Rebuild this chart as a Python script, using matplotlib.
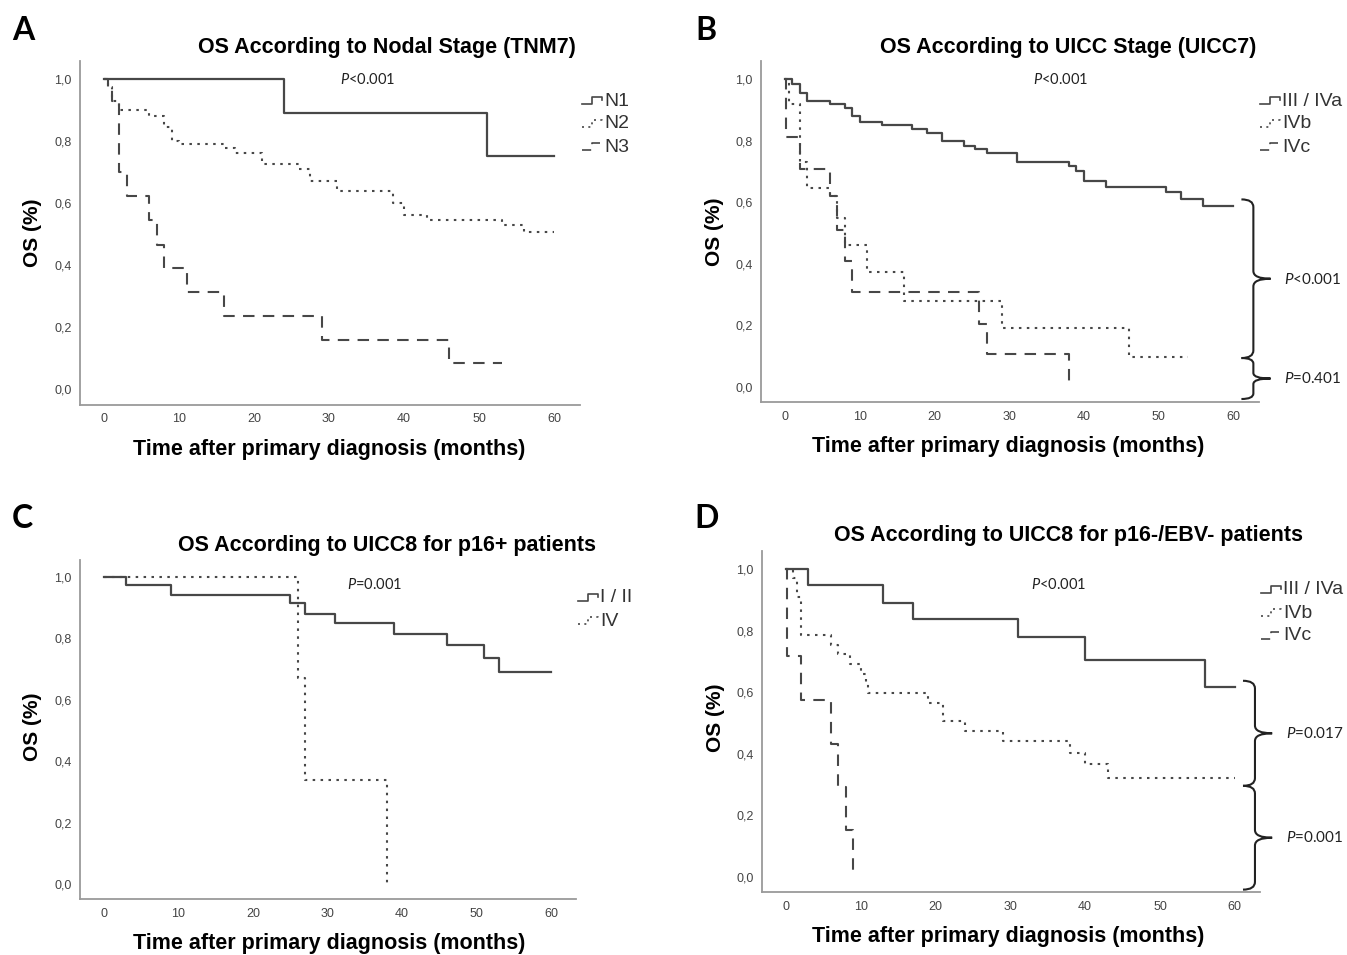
import matplotlib
matplotlib.use('Agg')
import matplotlib.pyplot as plt
from matplotlib.lines import Line2D
from matplotlib.path import Path
from matplotlib.patches import PathPatch
from matplotlib.ticker import FuncFormatter

plt.rcParams['font.family'] = ['Liberation Sans', 'DejaVu Sans']
plt.rcParams['mathtext.fontset'] = 'custom'
plt.rcParams['mathtext.it'] = 'Lato:italic'
plt.rcParams['mathtext.rm'] = 'Lato'

W, H = 1347, 955

# ---- data (Kaplan-Meier steps) ----
# A: nodal stage
n1_t = [0, 24, 51, 60]
n1_s = [1.0, 0.89, 0.75, 0.75]
n2_t = [0, 0.5, 1, 2, 6, 8, 9, 10, 16, 17.5, 21, 26, 27.5, 31, 38.5, 40, 43, 53, 56, 60]
n2_s = [1.0, 0.975, 0.93, 0.90, 0.88, 0.845, 0.80, 0.79, 0.778, 0.762, 0.725, 0.708, 0.67, 0.64, 0.60, 0.562, 0.546, 0.53, 0.505, 0.505]
n3_t = [0, 0.5, 1, 2, 3, 6, 7, 8, 11, 16, 29, 46, 53]
n3_s = [1.0, 0.975, 0.93, 0.70, 0.622, 0.544, 0.465, 0.389, 0.312, 0.237, 0.159, 0.083, 0.083]

# B: UICC7
b1_t = [0, 1, 2, 3, 6, 8, 9, 10, 13, 17, 19, 21, 24, 25.5, 27, 31, 38, 39, 40, 43, 51, 53, 56, 60]
b1_s = [1.0, 0.984, 0.954, 0.93, 0.918, 0.905, 0.88, 0.86, 0.85, 0.837, 0.826, 0.80, 0.783, 0.772, 0.76, 0.73, 0.717, 0.70, 0.668, 0.65, 0.633, 0.609, 0.589, 0.589]
b2_t = [0, 0.5, 2, 3, 6, 7, 8, 11, 16, 29, 46, 54]
b2_s = [1.0, 0.92, 0.73, 0.647, 0.62, 0.55, 0.46, 0.372, 0.28, 0.19, 0.098, 0.098]
b3_t = [0, 0.2, 2, 6, 7, 8, 9, 26, 27, 38]
b3_s = [1.0, 0.81, 0.709, 0.62, 0.51, 0.41, 0.308, 0.206, 0.107, 0.0]

# C: UICC8 p16+
c1_t = [0, 3, 9, 25, 27, 31, 39, 46, 51, 53, 60]
c1_s = [1.0, 0.973, 0.943, 0.914, 0.881, 0.849, 0.813, 0.778, 0.735, 0.689, 0.689]
c2_t = [0, 26, 27, 38]
c2_s = [1.0, 0.67, 0.34, 0.0]

# D: UICC8 p16-/EBV-
d1_t = [0, 3, 13, 17, 31, 40, 56, 60]
d1_s = [1.0, 0.948, 0.891, 0.836, 0.778, 0.706, 0.618, 0.618]
d2_t = [0, 1, 1.5, 2, 6, 7, 8.5, 10, 10.7, 11, 19, 21, 24, 29, 38, 40, 43, 60]
d2_s = [1.0, 0.97, 0.91, 0.784, 0.754, 0.725, 0.692, 0.66, 0.625, 0.598, 0.566, 0.506, 0.474, 0.44, 0.404, 0.366, 0.321, 0.321]
d3_t = [0, 0.1, 2, 6, 7, 8, 9]
d3_s = [1.0, 0.717, 0.574, 0.431, 0.293, 0.151, 0.0]

xticks = [0, 10, 20, 30, 40, 50, 60]
yticks = [0.0, 0.2, 0.4, 0.6, 0.8, 1.0]

LINE = '#474747'
STYLES = {
    'solid': dict(linestyle='-', linewidth=1.6),
    'dot': dict(linestyle=(0, (1.2, 2.6)), linewidth=1.5),
    'dash': dict(linestyle=(0, (5.5, 4)), linewidth=1.5),
}


def fx(x):
    return x / W


def fy(y):
    return 1 - y / H


def make_axes(l, t, r, b):
    ax = fig.add_axes([fx(l), fy(b), (r - l) / W, (b - t) / H])
    ax.set_xlim(-3.2, 63.4)
    ax.set_ylim(-0.05, 1.057)
    for s in ['top', 'right']:
        ax.spines[s].set_visible(False)
    for s in ['left', 'bottom']:
        ax.spines[s].set_color('#9a9a9a')
        ax.spines[s].set_linewidth(1.3)
    ax.set_xticks(xticks)
    ax.set_yticks(yticks)
    ax.yaxis.set_major_formatter(FuncFormatter(lambda v, p: f'{v:.1f}'.replace('.', ',')))
    ax.tick_params(length=0, labelsize=9, labelcolor='#444444', pad=6)
    return ax


def km(ax, t, s, style):
    ax.step(t, s, where='post', color=LINE, **STYLES[style])


def legend(x, y, items):
    for i, (style, label) in enumerate(items):
        yy = y + i * 23
        xs = [x, x + 10, x + 10, x + 20, x + 20]
        ys = [yy + 3, yy + 3, yy - 4, yy - 4, yy - 1]
        fig.add_artist(Line2D([fx(v) for v in xs], [fy(v) for v in ys],
                              transform=fig.transFigure, color=LINE,
                              **dict(STYLES[style], linewidth=1.2)))
        fig.text(fx(x + 22), fy(yy), label, fontsize=14, color='#333333',
                 va='center', ha='left')


def brace(ax, x, y0, y1, w_in, w_out, r):
    ym = (y0 + y1) / 2
    verts = [(x - w_in, y1), (x, y1), (x, y1 - r),
             (x, ym + r),
             (x, ym), (x + w_out, ym),
             (x, ym), (x, ym - r),
             (x, y0 + r),
             (x, y0), (x - w_in, y0)]
    codes = [Path.MOVETO, Path.CURVE3, Path.CURVE3,
             Path.LINETO,
             Path.CURVE3, Path.CURVE3,
             Path.CURVE3, Path.CURVE3,
             Path.LINETO,
             Path.CURVE3, Path.CURVE3]
    ax.add_patch(PathPatch(Path(verts, codes), fill=False, edgecolor='#222222',
                           linewidth=1.5, clip_on=False))


def ptext(ax, x, y, s, size=11):
    ax.text(x, y, s, fontsize=size, family='Lato', color='#222222',
            ha='left', va='center', clip_on=False)


fig = plt.figure(figsize=(W / 100, H / 100), dpi=100, facecolor='white')

# panel boxes in pixels (left, top, right, bottom)
axA = make_axes(80, 61.3, 579.5, 404.5)
axB = make_axes(761, 61.4, 1258.6, 402.4)
axC = make_axes(80, 559.5, 576.3, 899.4)
axD = make_axes(762, 551.4, 1260.2, 892.4)

km(axA, n1_t, n1_s, 'solid')
km(axA, n2_t, n2_s, 'dot')
km(axA, n3_t, n3_s, 'dash')

km(axB, b1_t, b1_s, 'solid')
km(axB, b2_t, b2_s, 'dot')
km(axB, b3_t, b3_s, 'dash')

km(axC, c1_t, c1_s, 'solid')
km(axC, c2_t, c2_s, 'dot')

km(axD, d1_t, d1_s, 'solid')
km(axD, d2_t, d2_s, 'dot')
km(axD, d3_t, d3_s, 'dash')

# p-values inside panels
for ax, x, y, s in [(axA, 31.5, 0.997, r'$P$<0.001'),
                    (axB, 33.2, 0.997, r'$P$<0.001'),
                    (axC, 32.6, 0.974, r'$P$=0.001'),
                    (axD, 32.7, 0.948, r'$P$<0.001')]:
    ptext(ax, x, y, s, size=10.5)

# braces
brace(axB, 62.7, 0.094, 0.609, 1.6, 2.3, 0.025)
brace(axB, 62.7, -0.039, 0.094, 1.6, 2.3, 0.018)
ptext(axB, 66.8, 0.35, r'$P$<0.001')
ptext(axB, 66.8, 0.027, r'$P$=0.401')
brace(axD, 62.7, 0.296, 0.637, 1.6, 2.3, 0.025)
brace(axD, 62.7, -0.041, 0.296, 1.6, 2.3, 0.025)
ptext(axD, 66.8, 0.466, r'$P$=0.017')
ptext(axD, 66.8, 0.127, r'$P$=0.001')

# legends
legend(582, 101, [('solid', 'N1'), ('dot', 'N2'), ('dash', 'N3')])
legend(1260, 101, [('solid', 'III / IVa'), ('dot', 'IVb'), ('dash', 'IVc')])
legend(578, 598, [('solid', 'I / II'), ('dot', 'IV')])
legend(1261, 590, [('solid', 'III / IVa'), ('dot', 'IVb'), ('dash', 'IVc')])

# titles, axis labels, panel letters
titles = [(387, 47, 'OS According to Nodal Stage (TNM7)'),
          (1068, 47, 'OS According to UICC Stage (UICC7)'),
          (387, 545, 'OS According to UICC8 for p16+ patients'),
          (1069, 536, 'OS According to UICC8 for p16-/EBV- patients')]
for x, y, s in titles:
    fig.text(fx(x), fy(y), s, fontsize=15.5, fontweight='bold', ha='center', va='center')

xlabels = [(329, 449), (1008, 446), (329, 943), (1008, 936)]
for x, y in xlabels:
    fig.text(fx(x), fy(y), 'Time after primary diagnosis (months)', fontsize=15.5,
             fontweight='bold', ha='center', va='center')

ylabels = [(33, 233), (714, 232), (33, 727), (715, 718)]
for x, y in ylabels:
    fig.text(fx(x), fy(y), 'OS (%)', fontsize=15, fontweight='bold', rotation=90,
             ha='center', va='center')

letters = [(23, 30, 'A'), (706, 30, 'B'), (22, 518, 'C'), (707, 518, 'D')]
for x, y, s in letters:
    fig.text(fx(x), fy(y), s, fontsize=23, fontweight='bold', family='Lato',
             ha='center', va='center')

fig.savefig('out.png', dpi=100, facecolor='white')
